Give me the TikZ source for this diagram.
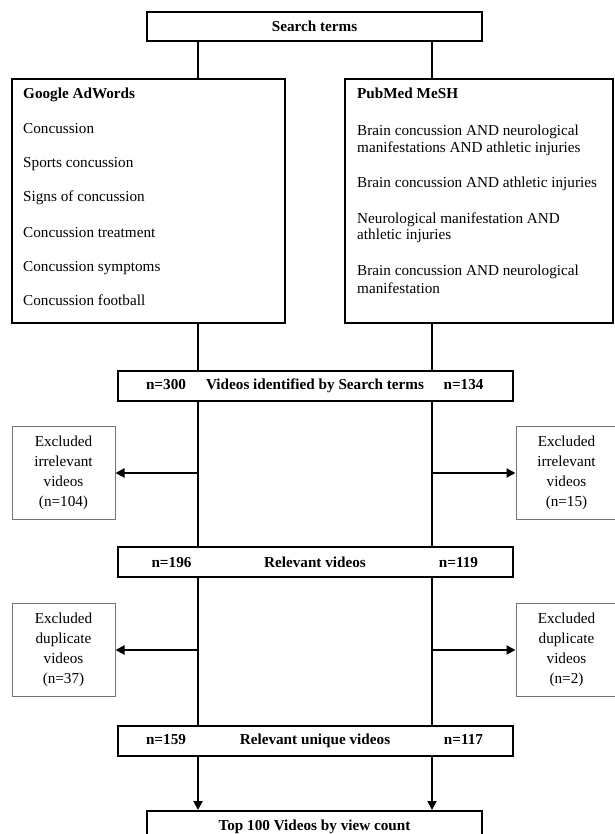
\documentclass[tikz,border=0pt]{standalone}
\usepackage{fontspec}
\setmainfont{Liberation Serif}
\usetikzlibrary{arrows.meta}
\begin{document}
\begin{tikzpicture}[x=1pt,y=-1pt,
  bigbox/.style={draw, line width=2pt, inner sep=0pt, font=\fontsize{15.2}{18}\selectfont\bfseries},
  exclbox/.style={draw=black!55, line width=1pt, inner sep=0pt, align=center, minimum width=103pt, minimum height=93pt, font=\fontsize{15.2}{20}\selectfont},
  txt/.style={anchor=base west, inner sep=0pt, font=\fontsize{15.2}{18}\selectfont},
  btxt/.style={anchor=base west, inner sep=0pt, font=\fontsize{15.2}{18}\selectfont\bfseries},
  ntxt/.style={anchor=base, inner sep=0pt, font=\fontsize{15.2}{18}\selectfont\bfseries},
  conn/.style={line width=2pt},
  arr/.style={line width=2pt, -{Triangle[length=9pt,width=9pt]}}]
\useasboundingbox (0,0) rectangle (614,834);
% column coordinates
\coordinate (L) at (198,0);
\coordinate (R) at (432,0);
\coordinate (NL) at (166,0);
\coordinate (NR) at (463.5,0);
\coordinate (NL2) at (171.5,0);
\coordinate (NR2) at (458.5,0);
% boxes
\node[bigbox, minimum width=335pt, minimum height=29pt] (search) at (314.5,26.5) {Search terms};
\node[bigbox, minimum width=273pt, minimum height=244pt] (google) at (148.5,201) {};
\node[bigbox, minimum width=268pt, minimum height=244pt] (pubmed) at (479,201) {};
\node[bigbox, minimum width=395pt, minimum height=30pt] (ident) at (315,386) {Videos identified by Search terms};
\node[bigbox, minimum width=395pt, minimum height=30pt] (relev) at (315,562) {Relevant videos};
\node[bigbox, minimum width=395pt, minimum height=30pt] (uniq) at (315,741) {Relevant unique videos};
\node[bigbox, minimum width=335pt, minimum height=29pt] (top) at (314.5,825.5) {};
\node[ntxt] (toptext) at (314.5,830) {Top 100 Videos by view count};
% n labels
\node[ntxt] (n300) at (ident.base -| NL) {n=300};
\node[ntxt] (n134) at (ident.base -| NR) {n=134};
\node[ntxt] (n196) at (relev.base -| NL2) {n=196};
\node[ntxt] (n119) at (relev.base -| NR2) {n=119};
\node[ntxt] (n159) at (uniq.base -| NL) {n=159};
\node[ntxt] (n117) at (uniq.base -| NR) {n=117};
% Google text
\node[btxt] (g0) at (23,99) {Google AdWords};
\node[txt] (g1) at (23,134) {Concussion};
\node[txt] (g2) at (23,168) {Sports concussion};
\node[txt] (g3) at (23,202) {Signs of concussion};
\node[txt] (g4) at (23,237) {Concussion treatment};
\node[txt] (g5) at (23,271) {Concussion symptoms};
\node[txt] (g6) at (23,305) {Concussion football};
% PubMed text
\node[btxt] (p0) at (357,99) {PubMed MeSH};
\node[txt] (p1) at (357,136) {Brain concussion AND neurological};
\node[txt] (p1b) at (357,153) {manifestations AND athletic injuries};
\node[txt] (p2) at (357,188) {Brain concussion AND athletic injuries};
\node[txt] (p3) at (357,223) {Neurological manifestation AND};
\node[txt] (p3b) at (357,240) {athletic injuries};
\node[txt] (p4) at (357,275) {Brain concussion AND neurological};
\node[txt] (p4b) at (357,293) {manifestation};
% excluded boxes
\node[exclbox] (exL1) at (63.5,473) {Excluded\\irrelevant\\videos\\(n=104)};
\node[exclbox, minimum width=101pt] (exR1) at (566.5,473) {Excluded\\irrelevant\\videos\\(n=15)};
\node[exclbox] (exL2) at (63.5,650) {Excluded\\duplicate\\videos\\(n=37)};
\node[exclbox, minimum width=101pt] (exR2) at (566.5,650) {Excluded\\duplicate\\videos\\(n=2)};
% connectors
\draw[conn] (search.south -| L) -- (google.north -| L);
\draw[conn] (search.south -| R) -- (pubmed.north -| R);
\draw[conn] (google.south -| L) -- (ident.north -| L);
\draw[conn] (pubmed.south -| R) -- (ident.north -| R);
\draw[conn] (ident.south -| L) -- (relev.north -| L);
\draw[conn] (ident.south -| R) -- (relev.north -| R);
\draw[arr] (exL1.east -| L) -- (exL1.east);
\draw[arr] (exR1.west -| R) -- (exR1.west);
\draw[conn] (relev.south -| L) -- (uniq.north -| L);
\draw[conn] (relev.south -| R) -- (uniq.north -| R);
\draw[arr] (exL2.east -| L) -- (exL2.east);
\draw[arr] (exR2.west -| R) -- (exR2.west);
\draw[arr] (uniq.south -| L) -- (top.north -| L);
\draw[arr] (uniq.south -| R) -- (top.north -| R);
\end{tikzpicture}
\end{document}
